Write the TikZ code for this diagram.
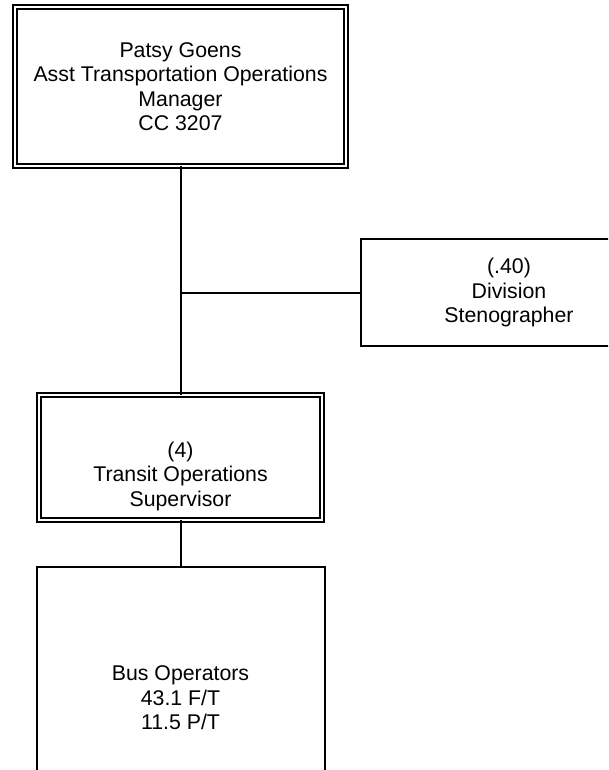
\documentclass[tikz,border=0pt]{standalone}
\usepackage{fontspec}
\setmainfont{Liberation Sans}
\begin{document}
\begin{tikzpicture}[x=1pt,y=-1pt,
  box/.style={draw=black, line width=2pt, inner sep=0pt, outer sep=0pt, align=center,
    font=\fontsize{21.3}{24.5}\selectfont},
  dbox/.style={box, line width=1.6pt, double, double distance=2.4pt},
  conn/.style={draw=black, line width=2pt}]
\useasboundingbox (0,0) rectangle (608,770);
\clip (0,0) rectangle (608,770);
\node[dbox, minimum width=331pt, minimum height=159pt] (b1) at (180.5,86.5)
  {Patsy Goens\\Asst Transportation Operations\\Manager\\CC 3207};
\node[box, minimum width=296pt, minimum height=107pt] (b2) at (509,292.5)
  {(.40)\\Division\\Stenographer};
\node[dbox, minimum width=283pt, minimum height=125pt] (b3) at (180.5,457.5) {};
\node[align=center, font=\fontsize{21.3}{24.5}\selectfont, inner sep=0pt] (t3) at (180.5,476)
  {(4)\\Transit Operations\\Supervisor};
\node[box, minimum width=288pt, minimum height=262pt] (b4) at (180.5,698)
  {Bus Operators\\43.1 F/T\\11.5 P/T};
\coordinate (j) at (b1.south |- b2.west);
\draw[conn] (b1.south) -- (b3.north);
\draw[conn] (j) -- (b2.west);
\draw[conn] (b3.south) -- (b4.north);
\end{tikzpicture}
\end{document}
